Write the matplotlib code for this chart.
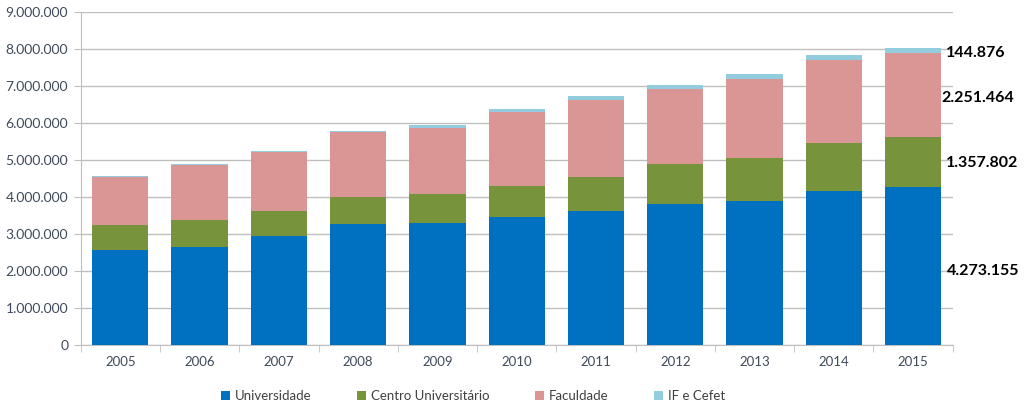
import numpy as np
import matplotlib
matplotlib.use('Agg')
import matplotlib.pyplot as plt
from matplotlib.ticker import FuncFormatter, FixedLocator

# Data (values in millions; 2015 from the labels)
years = ['2005', '2006', '2007', '2008', '2009', '2010',
         '2011', '2012', '2013', '2014', '2015']
universidade = [2.573, 2.646, 2.943, 3.267, 3.302, 3.464,
                3.634, 3.815, 3.896, 4.175, 4.273155]
centro_univ = [0.675, 0.745, 0.691, 0.745, 0.791, 0.836,
               0.918, 1.085, 1.161, 1.275, 1.357802]
faculdade = [1.288, 1.469, 1.585, 1.748, 1.782, 1.990,
             2.079, 2.030, 2.133, 2.250, 2.251464]
if_cefet = [0.034, 0.035, 0.035, 0.035, 0.065, 0.080,
            0.099, 0.100, 0.135, 0.140, 0.144876]
labels_2015 = ['4.273.155', '1.357.802', '2.251.464', '144.876']

series_names = ['Universidade', 'Centro Universitário', 'Faculdade', 'IF e Cefet']
colors = ['#0070C0', '#77933C', '#D99694', '#93CDDD']

plt.rcParams['font.family'] = ['Lato', 'DejaVu Sans']

fig = plt.figure(figsize=(10.24, 4.15), dpi=100)
ax = fig.add_axes([0.0788, 0.168, 0.8516, 0.803])

x = np.arange(len(years))
bottom = np.zeros(len(years))
for vals, name, c in zip([universidade, centro_univ, faculdade, if_cefet],
                         series_names, colors):
    v = np.array(vals) * 1e6
    ax.bar(x, v, 0.71, bottom=bottom, color=c, label=name, zorder=3)
    bottom += v

ax.set_xlim(-0.5, len(years) - 0.5)
ax.set_ylim(0, 9e6)
ax.set_yticks(np.arange(0, 9.1e6, 1e6))
ax.yaxis.set_major_formatter(FuncFormatter(lambda v, p: f'{int(v):,}'.replace(',', '.')))
ax.set_xticks(x)
ax.set_xticklabels(years)
ax.xaxis.set_minor_locator(FixedLocator(np.arange(-0.5, len(years), 1.0)))

grid_c = '#BFBFBF'
ax.grid(axis='y', color=grid_c, linewidth=1, zorder=0)
for s in ['top', 'right']:
    ax.spines[s].set_visible(False)
for s in ['left', 'bottom']:
    ax.spines[s].set_color(grid_c)
ax.tick_params(axis='x', which='major', length=0, pad=8, labelsize=9.5, labelcolor='#3F4A5A')
ax.tick_params(axis='x', which='minor', length=5, color=grid_c)
ax.tick_params(axis='y', length=5, color=grid_c, labelsize=10, labelcolor='#3F4A5A', pad=4)

# Labels for 2015 on the right
ann_y = [2.0e6, 4.93e6, 6.68e6, 7.89e6]
ann_x = [10.42, 10.42, 10.36, 10.42]
for lab, yy, xx in zip(labels_2015, ann_y, ann_x):
    ax.text(xx, yy, lab, ha='left', va='center', fontsize=11.5,
            fontweight='bold', color='black', clip_on=False)

leg = fig.legend(loc='center', bbox_to_anchor=(0.462, 0.045), ncol=4, frameon=False,
                 handlelength=0.7, handleheight=0.7, handletextpad=0.4,
                 columnspacing=3.4, fontsize=9.5)
for t in leg.get_texts():
    t.set_color('#404040')

fig.savefig('out.png', dpi=100)
